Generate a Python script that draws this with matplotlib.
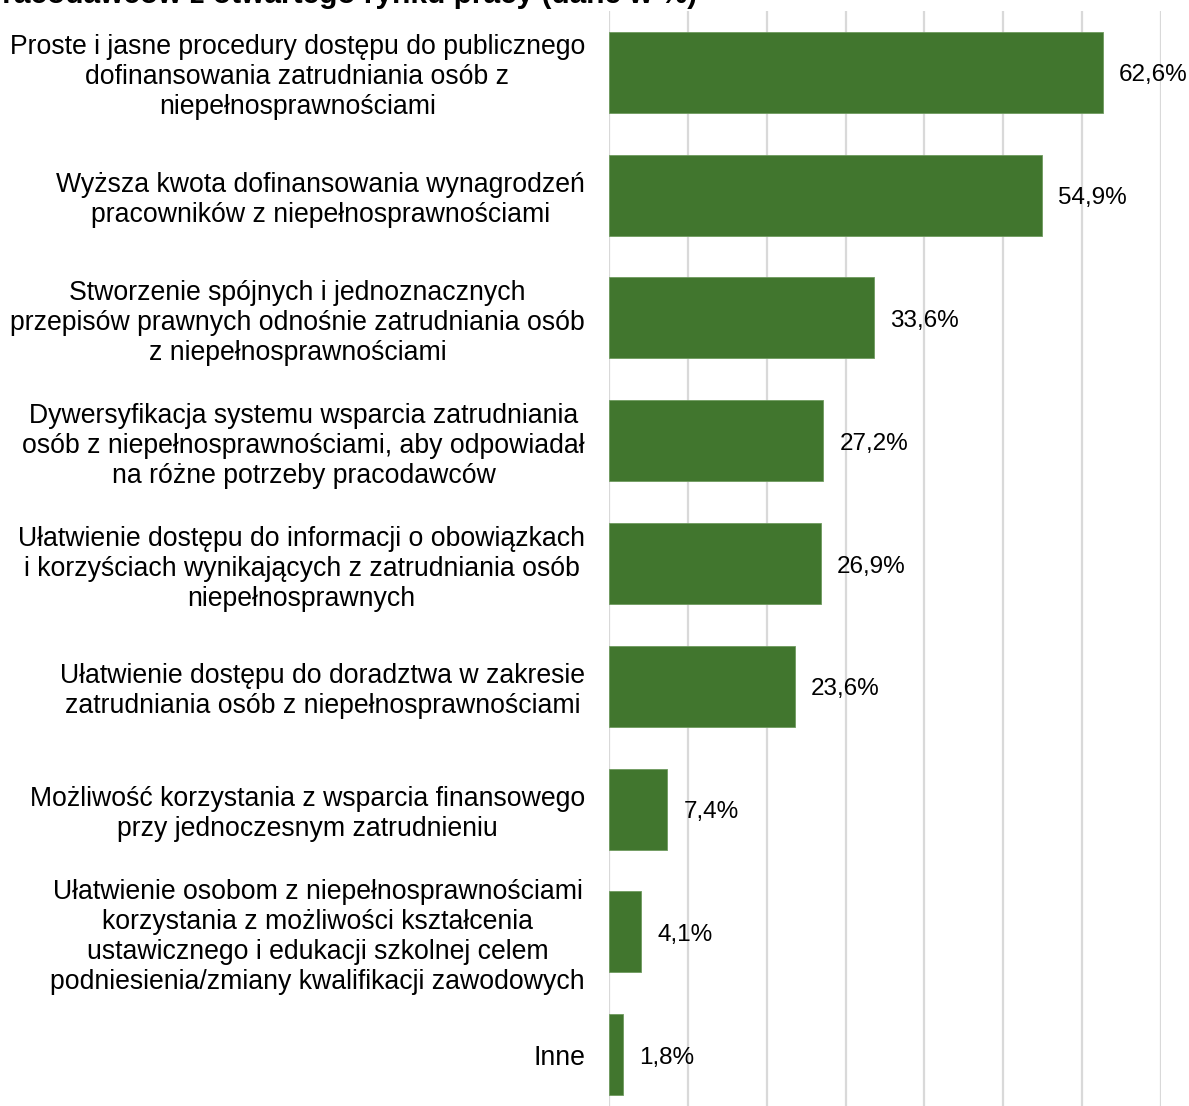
import numpy as np
import matplotlib
matplotlib.use("Agg")
import matplotlib.pyplot as plt

plt.rcParams["font.family"] = ["Liberation Sans", "DejaVu Sans"]

CATEGORIES = [
    "Proste i jasne procedury dostępu do publicznego\ndofinansowania zatrudniania osób z\nniepełnosprawnościami",
    "Wyższa kwota dofinansowania wynagrodzeń\npracowników z niepełnosprawnościami",
    "Stworzenie spójnych i jednoznacznych\nprzepisów prawnych odnośnie zatrudniania osób\nz niepełnosprawnościami",
    "Dywersyfikacja systemu wsparcia zatrudniania\nosób z niepełnosprawnościami, aby odpowiadał\nna różne potrzeby pracodawców",
    "Ułatwienie dostępu do informacji o obowiązkach\ni korzyściach wynikających z zatrudniania osób\nniepełnosprawnych",
    "Ułatwienie dostępu do doradztwa w zakresie\nzatrudniania osób z niepełnosprawnościami",
    "Możliwość korzystania z wsparcia finansowego\nprzy jednoczesnym zatrudnieniu",
    "Ułatwienie osobom z niepełnosprawnościami\nkorzystania z możliwości kształcenia\nustawicznego i edukacji szkolnej celem\npodniesienia/zmiany kwalifikacji zawodowych",
    "Inne",
]
VALUES = [62.6, 54.9, 33.6, 27.2, 26.9, 23.6, 7.4, 4.1, 1.8]
TITLE = "pracodawców z otwartego rynku pracy (dane w %)"

GREEN = "#41762e"
W, H = 1189, 1106

fig = plt.figure(figsize=(W / 100, H / 100), dpi=100)
# axes frame: x 0..70 spans 609..1161 px, rows of 123 px starting at y=11
ax = fig.add_axes([609 / W, (H - 1116) / H, (1161 - 609) / W, (1116 - 11) / H])

y = np.arange(len(VALUES))
bars = ax.barh(y, VALUES, height=0.66, color=GREEN, edgecolor="#6f9a5f",
               linewidth=0.6, zorder=3)
ax.set_ylim(len(VALUES) - 0.5, -0.5)
ax.set_xlim(0, 70)
ax.set_xticks(np.arange(0, 71, 10))
ax.xaxis.grid(True, color="#d9d9d9", linewidth=1.6, zorder=0)
ax.tick_params(axis="x", length=0, labelbottom=False)
ax.tick_params(axis="y", length=0, pad=17.3)
for s in ax.spines.values():
    s.set_visible(False)

ax.set_yticks(y)
ax.set_yticklabels(CATEGORIES, fontsize=19.2, multialignment="center",
                   linespacing=1.2)

# value labels, decimal comma
for b, v in zip(bars, VALUES):
    ax.annotate(f"{v:.1f}%".replace(".", ","),
                (v, b.get_y() + b.get_height() / 2),
                xytext=(11.5, -2.2), textcoords="offset points",
                ha="left", va="center", fontsize=17.5, clip_on=False)

fig.text(697 / W, 1 - 3 / H, TITLE, ha="right", va="baseline",
         fontsize=21.5, fontweight="bold")

fig.savefig("out.png", dpi=100)
